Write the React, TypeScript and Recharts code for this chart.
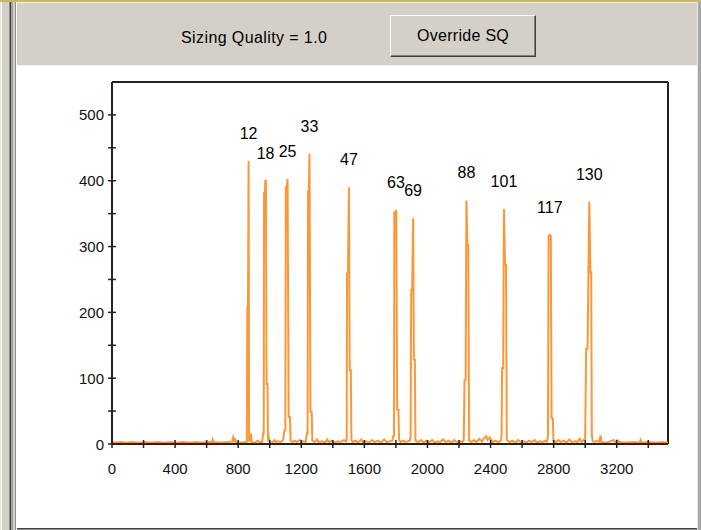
import React from 'react';
import { ComposedChart, Line, XAxis, YAxis, ReferenceLine, ReferenceDot } from 'recharts';

// Electropherogram trace: [scan, rfu]
const trace: [number, number][] = [
  [0, 3], [25, 2], [55, 3], [90, 2], [130, 3], [170, 2], [210, 3], [250, 2], [290, 3], [330, 2], [370, 3], [410, 2],
  [450, 3], [490, 2], [530, 3], [570, 2], [610, 3], [632, 3], [638, 7], [644, 3], [690, 2], [730, 3], [762, 4],
  [768, 10], [774, 5], [780, 7], [786, 3], [820, 2], [848, 3],
  [855, 3], [858, 207], [862, 207], [866, 430], [869, 5], [876, 5], [881, 16], [886, 3], [905, 2], [925, 5], [935, 3],
  [952, 3], [958, 16], [962, 16], [964, 381], [969, 381], [972, 400], [976, 400], [980, 91], [986, 91], [989, 8],
  [994, 10], [999, 3], [1015, 2], [1030, 6], [1038, 3], [1055, 4], [1068, 3], [1085, 6],
  [1093, 21], [1099, 21], [1102, 390], [1108, 390], [1113, 403], [1120, 41], [1128, 41], [1132, 5], [1145, 3],
  [1160, 5], [1172, 3], [1190, 6], [1200, 3], [1215, 4], [1228, 3],
  [1235, 16], [1240, 16], [1243, 384], [1248, 384], [1252, 441], [1258, 49], [1266, 49], [1270, 5], [1285, 3],
  [1300, 7], [1310, 3], [1330, 4], [1350, 2], [1365, 7], [1375, 3], [1395, 5], [1410, 2], [1430, 4], [1450, 3], [1470, 6],
  [1484, 4], [1488, 8], [1490, 259], [1496, 259], [1502, 390], [1507, 112], [1514, 112], [1518, 6], [1525, 3],
  [1545, 5], [1560, 2], [1580, 7], [1590, 3], [1610, 4], [1630, 2], [1650, 6], [1665, 3], [1690, 5], [1705, 2],
  [1725, 7], [1740, 3], [1760, 4],
  [1778, 5], [1783, 12], [1788, 12], [1790, 352], [1797, 352], [1802, 356], [1808, 52], [1816, 52], [1820, 6],
  [1830, 3], [1845, 5], [1858, 3], [1875, 4],
  [1888, 5], [1893, 11], [1897, 234], [1903, 234], [1909, 343], [1914, 128], [1920, 128], [1924, 5], [1940, 3],
  [1960, 6], [1975, 2], [1995, 5], [2010, 3], [2030, 6], [2045, 2], [2065, 4], [2080, 3], [2100, 7], [2115, 3],
  [2135, 5], [2150, 2], [2170, 6], [2185, 3], [2205, 4], [2220, 3],
  [2230, 6], [2235, 97], [2242, 97], [2247, 370], [2253, 302], [2259, 302], [2264, 5], [2280, 3], [2295, 6],
  [2310, 3], [2330, 8], [2345, 4], [2360, 9], [2372, 12], [2382, 6], [2395, 10], [2410, 3], [2430, 5], [2450, 3],
  [2466, 5], [2470, 13], [2473, 115], [2480, 115], [2485, 357], [2492, 272], [2498, 272], [2503, 6], [2520, 3],
  [2540, 5], [2555, 2], [2575, 6], [2590, 3], [2610, 4], [2625, 2], [2645, 5], [2660, 3], [2680, 6], [2695, 2],
  [2715, 4], [2730, 3], [2745, 5],
  [2758, 4], [2764, 11], [2768, 316], [2776, 318], [2782, 316], [2787, 39], [2795, 39], [2799, 5], [2815, 3],
  [2830, 6], [2845, 3], [2865, 5], [2880, 2], [2900, 7], [2915, 3], [2935, 4], [2950, 3], [2965, 8], [2978, 3], [2990, 6],
  [3000, 8], [3006, 145], [3015, 145], [3026, 368], [3033, 261], [3038, 261], [3042, 13], [3048, 4], [3060, 3],
  [3075, 5], [3090, 3], [3097, 13], [3104, 3], [3130, 2], [3160, 4], [3180, 6], [3190, 3], [3205, 6], [3215, 3],
  [3250, 2], [3300, 3], [3345, 2], [3351, 6], [3357, 2], [3400, 3], [3450, 2], [3490, 3], [3525, 2],
];

const peakLabels = ['12', '18', '25', '33', '47', '63', '69', '88', '101', '117', '130'];
const peakScans = [866, 974, 1113, 1252, 1502, 1800, 1909, 2247, 2485, 2776, 3026];
const peakHeights = [430, 400, 403, 441, 390, 356, 343, 370, 357, 318, 368];

const xTicks = [0, 200, 400, 600, 800, 1000, 1200, 1400, 1600, 1800, 2000, 2200, 2400, 2600, 2800, 3000, 3200, 3400];
const yTicks = [0, 50, 100, 150, 200, 250, 300, 350, 400, 450, 500];

const X_MAX = 3525;
const Y_MAX = 550;

const chartData = trace.map(([scan, rfu]) => ({ scan, rfu }));

const FONT = '"Liberation Sans", Arial, sans-serif';
const ORANGE = '#FF9636';
const AXIS = '#222222';

const XTick = (props: any) => {
  const { x, y, payload } = props;
  const v = payload.value as number;
  return (
    <g>
      <line x1={x} x2={x} y1={y - 4} y2={y + 4} stroke={AXIS} strokeWidth={1.5} />
      {v % 400 === 0 ? (
        <text x={x} y={y + 30} textAnchor="middle" fontSize={15} fontFamily={FONT} fill="#111">
          {v}
        </text>
      ) : null}
    </g>
  );
};

const YTick = (props: any) => {
  const { x, y, payload } = props;
  const v = payload.value as number;
  return (
    <g>
      <line x1={x - 4} x2={x + 4} y1={y} y2={y} stroke={AXIS} strokeWidth={1.5} />
      {v % 100 === 0 ? (
        <text x={x - 8} y={y + 5.5} textAnchor="end" fontSize={15} fontFamily={FONT} fill="#111">
          {v}
        </text>
      ) : null}
    </g>
  );
};

const abs = (left: number, top: number, width: number, height: number, bg: string, extra: any = {}) => (
  <div style={{ position: 'absolute', left, top, width, height, background: bg, ...extra }} />
);

export default function App() {
  return (
    <div
      style={{
        position: 'absolute',
        left: 0,
        top: 0,
        width: 701,
        height: 530,
        background: '#D4D0C8',
        overflow: 'hidden',
        fontFamily: FONT,
      }}
    >
      {/* window chrome */}
      {abs(0, 0, 701, 2, '#C8B86E')}
      {abs(0, 2, 1, 528, '#E6E3DC')}
      {abs(1, 2, 1, 528, '#FFFFFF')}
      {abs(9, 2, 1, 528, '#8A8A8A')}
      {abs(10, 2, 1, 528, '#404040')}
      {abs(11, 2, 2, 528, '#A0A0A0')}
      {abs(15, 2, 1, 528, '#909090')}
      {abs(16, 2, 1, 528, '#FFFFFF')}
      {abs(17, 2, 681, 1, '#F0EEE8')}
      {abs(17, 65, 681, 1, '#F4F2EE')}
      {abs(17, 66, 680, 462, '#FFFFFF')}
      {abs(17, 528, 680, 1, '#404040')}
      {abs(17, 529, 680, 1, '#909090')}
      {abs(697, 2, 1, 528, '#E8E8E8')}
      {abs(698, 2, 3, 528, '#A8A8A8')}

      {/* header */}
      <div
        style={{
          position: 'absolute',
          left: 181,
          top: 28,
          fontSize: 16,
          letterSpacing: 0.4,
          color: '#000',
          whiteSpace: 'nowrap',
          lineHeight: '20px',
        }}
      >
        Sizing Quality = 1.0
      </div>
      <div
        style={{
          position: 'absolute',
          left: 390,
          top: 15,
          width: 146,
          height: 42,
          boxSizing: 'border-box',
          background: '#D4D0C8',
          borderTop: '1px solid #FFFFFF',
          borderLeft: '1px solid #FFFFFF',
          borderRight: '1px solid #404040',
          borderBottom: '1px solid #404040',
          boxShadow: 'inset -1px -1px 0 #808080',
          display: 'flex',
          alignItems: 'center',
          justifyContent: 'center',
          fontSize: 16,
          letterSpacing: 0.3,
          color: '#000',
        }}
      >
        Override SQ
      </div>

      <div style={{ position: 'absolute', left: 0, top: 0 }}>
        <ComposedChart
          width={701}
          height={530}
          data={chartData}
          margin={{ top: 82, right: 33, bottom: 46, left: 0 }}
        >
          <XAxis
            dataKey="scan"
            type="number"
            domain={[0, X_MAX]}
            ticks={xTicks}
            interval={0}
            allowDataOverflow
            height={40}
            tickSize={0}
            tickMargin={0}
            tickLine={false}
            axisLine={{ stroke: AXIS, strokeWidth: 2 }}
            tick={<XTick />}
          />
          <YAxis
            type="number"
            domain={[0, Y_MAX]}
            ticks={yTicks}
            interval={0}
            allowDataOverflow
            width={112}
            tickSize={0}
            tickMargin={0}
            tickLine={false}
            axisLine={{ stroke: AXIS, strokeWidth: 2 }}
            tick={<YTick />}
          />
          <ReferenceLine y={Y_MAX} stroke={AXIS} strokeWidth={2} ifOverflow="extendDomain" />
          <ReferenceLine x={X_MAX} stroke={AXIS} strokeWidth={2} ifOverflow="extendDomain" />
          <Line
            type="linear"
            dataKey="rfu"
            stroke={ORANGE}
            strokeWidth={2}
            dot={false}
            activeDot={false}
            isAnimationActive={false}
          />
          {peakLabels.map((lab, i) => (
            <ReferenceDot
              key={lab}
              x={peakScans[i]}
              y={peakHeights[i]}
              r={1}
              fill="none"
              stroke="none"
              label={{ value: lab, position: 'top', offset: 21, fill: '#000', fontSize: 16, fontFamily: FONT }}
            />
          ))}
        </ComposedChart>
      </div>
    </div>
  );
}
